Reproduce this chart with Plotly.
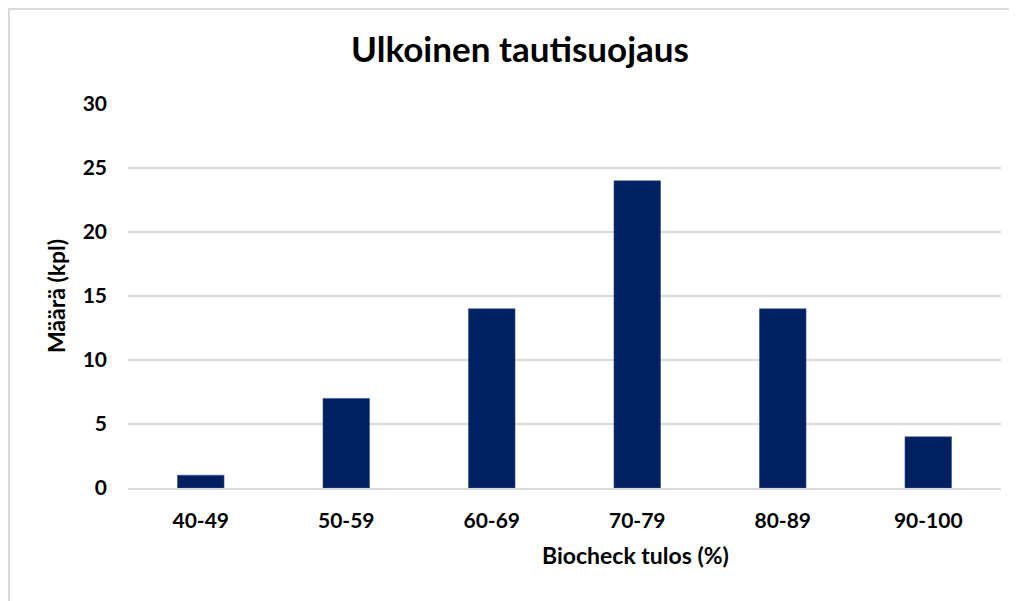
import plotly.graph_objects as go

categories = ["40-49", "50-59", "60-69", "70-79", "80-89", "90-100"]
counts = [1, 7, 14, 24, 14, 4]
y_ticks = [0, 5, 10, 15, 20, 25, 30]

# page body has an 8px margin, so the figure is a bit smaller than the window
W, H = 1009, 593
L, R, T, B = 120, 16, 96, 113
pw, ph = W - L - R, H - T - B

fig = go.Figure(go.Bar(
    x=categories, y=counts,
    marker=dict(color="#002060", line=dict(color="#3a5590", width=0.6)),
))

font = "Lato, Calibri, Arial, sans-serif"
fig.update_layout(
    width=W, height=H,
    margin=dict(l=L, r=R, t=T, b=B),
    plot_bgcolor="white", paper_bgcolor="white",
    bargap=0.68,
    showlegend=False,
    font=dict(family=font, color="#000000"),
    title=dict(text="<b>Ulkoinen tautisuojaus</b>", x=512 / W, xanchor="center",
               y=1 - 42 / H, yanchor="middle", font=dict(size=35, family=font)),
    xaxis=dict(
        tickfont=dict(size=21, family=font, weight="bold"),
        showline=True, linecolor="#d9d9d9", linewidth=1.5,
        ticks="", ticklabelstandoff=13,
    ),
    yaxis=dict(
        range=[0, 30], tickvals=y_ticks,
        tickfont=dict(size=21, family=font, weight="bold"),
        title=dict(text="<b>Määrä (kpl)</b>", font=dict(size=23), standoff=10),
        showgrid=True, gridcolor="#d9d9d9", gridwidth=1.5,
        zeroline=False, ticks="", ticklabelstandoff=20,
    ),
)

# x axis title sits a little right of centre in the original
fig.add_annotation(text="<b>Biocheck tulos (%)</b>", xref="paper", yref="paper",
                   x=(635 - 8 - L) / pw, y=-(547 - T - ph) / ph,
                   xanchor="center", yanchor="middle", showarrow=False,
                   font=dict(size=23, family=font))

# outer chart border
fig.add_shape(type="rect", xref="paper", yref="paper",
              x0=1 / pw - L / pw, x1=(W + 20 - L) / pw,
              y0=-(H + 20 - T - ph) / ph, y1=1 + (T - 1) / ph,
              line=dict(color="#d9d9d9", width=2), layer="below")

fig.write_html("out.html")
